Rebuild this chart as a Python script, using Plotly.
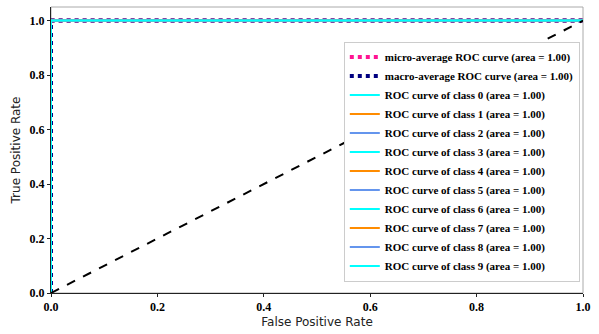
import plotly.graph_objects as go

fpr = [0.0, 0.0, 1.0]
tpr = [0.0, 1.0, 1.0]
diag_x = [0.0, 1.0]
diag_y = [0.0, 1.0]
classes = list(range(10))
areas = [1.00] * 10
micro_area = 1.00
macro_area = 1.00
class_colors = ["aqua", "darkorange", "cornflowerblue"]
xticks = [0.0, 0.2, 0.4, 0.6, 0.8, 1.0]
yticks = [0.0, 0.2, 0.4, 0.6, 0.8, 1.0]

fig = go.Figure()
fig.add_trace(go.Scatter(x=fpr, y=tpr, mode="lines",
                         line=dict(color="deeppink", width=4, dash="dot"),
                         name=f"micro-average ROC curve (area = {micro_area:.2f})"))
fig.add_trace(go.Scatter(x=fpr, y=tpr, mode="lines",
                         line=dict(color="navy", width=4, dash="dot"),
                         name=f"macro-average ROC curve (area = {macro_area:.2f})"))
for i, a in zip(classes, areas):
    fig.add_trace(go.Scatter(x=fpr, y=tpr, mode="lines",
                             line=dict(color=class_colors[i % 3], width=2),
                             name=f"ROC curve of class {i} (area = {a:.2f})"))
fig.add_trace(go.Scatter(x=diag_x, y=diag_y, mode="lines",
                         line=dict(color="black", width=2, dash="dash"),
                         showlegend=False))

tickfont = dict(family="Liberation Serif", size=12, color="black")
fig.update_layout(
    width=599, height=334,
    margin=dict(l=51, r=16, t=7, b=39),
    plot_bgcolor="white", paper_bgcolor="white",
    xaxis=dict(range=[0, 1.0], tickvals=xticks, ticktext=[f"<b>{v:.1f}</b>" for v in xticks],
               tickfont=tickfont, showgrid=False, zeroline=False,
               showline=True, linecolor="#222", linewidth=1,
               ticks="outside", ticklen=3, tickcolor="#222",
               title=dict(text="False Positive Rate", font=dict(family="DejaVu Sans", size=12, color="#222"), standoff=4)),
    yaxis=dict(range=[0, 1.05], tickvals=yticks, ticktext=[f"<b>{v:.1f}</b>" for v in yticks],
               tickfont=tickfont, showgrid=False, zeroline=False,
               showline=True, linecolor="#222", linewidth=1,
               ticks="outside", ticklen=3, tickcolor="#222",
               title=dict(text="True Positive Rate", font=dict(family="DejaVu Sans", size=12, color="#222"), standoff=6)),
    legend=dict(x=0.994, y=0.04, xanchor="right", yanchor="bottom",
                bgcolor="white", bordercolor="#ccc", borderwidth=1,
                font=dict(family="Liberation Serif", size=11, color="black"),
                tracegroupgap=0, itemwidth=30),
    shapes=[dict(type="rect", xref="paper", yref="paper", x0=0, y0=0, x1=1, y1=1,
                 line=dict(color="#aaa", width=1), layer="below")],
    showlegend=True,
)
for tr in fig.data:
    if tr.name:
        tr.name = f"<b>{tr.name}</b>"

fig.write_html("out.html")
